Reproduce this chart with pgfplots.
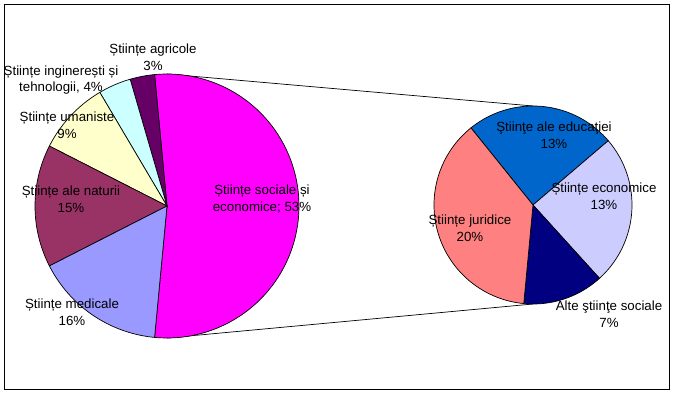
\documentclass[border=0pt]{standalone}
\usepackage{fontspec}
\setmainfont{Liberation Sans}
\usepackage{pgfplots}
\pgfplotsset{compat=1.18}
\definecolor{cMag}{HTML}{FF00FF}
\definecolor{cDpur}{HTML}{660066}
\definecolor{cCyan}{HTML}{CCFFFF}
\definecolor{cCream}{HTML}{FFFFCC}
\definecolor{cMaroon}{HTML}{993366}
\definecolor{cLav}{HTML}{9999FF}
\definecolor{cBlue}{HTML}{0066CC}
\definecolor{cLLav}{HTML}{CCCCFF}
\definecolor{cNavy}{HTML}{000080}
\definecolor{cSalmon}{HTML}{FF8080}
\tikzset{lbl/.style={font=\fontsize{13.3}{16.5}\selectfont, align=center, inner sep=0pt, text=black}}
% slice: cx, cy, r, start angle, end angle, colour
\newcommand\slice[6]{%
  \addplot[draw=black, line width=0.7pt, fill=#6, domain=#4:#5, samples=80, variable=\t]
    ({#1+#3*cos(\t)},{#2-#3*sin(\t)}) -- (axis cs:#1,#2) -- cycle;
}
\begin{document}
\begin{tikzpicture}
\begin{axis}[hide axis, scale only axis, width=673pt, height=395pt,
  xmin=0, xmax=673, ymin=0, ymax=395, y dir=reverse, clip=false]
\addplot[draw=none] coordinates {(0,0) (673,395)};
% frame
\addplot[black, line width=0.9pt] coordinates {(4,4) (669,4) (669,389) (4,389) (4,4)};
% connector lines
\addplot[black, line width=0.7pt] coordinates {(167,74) (533,106)};
\addplot[black, line width=0.7pt] coordinates {(167,338) (533,304)};
% main pie (percent of total): 53, 3, 4, 9, 15, 16  -> degrees = 3.6 * percent
\slice{167}{206}{132}{-95.4}{95.4}{cMag}     % 53
\slice{167}{206}{132}{95.4}{106.2}{cDpur}    % 3
\slice{167}{206}{132}{106.2}{120.6}{cCyan}   % 4
\slice{167}{206}{132}{120.6}{153.0}{cCream}  % 9
\slice{167}{206}{132}{153.0}{207.0}{cMaroon} % 15
\slice{167}{206}{132}{207.0}{264.6}{cLav}    % 16
% secondary pie (share of 53): 13, 13, 7, 20 -> degrees = 360 * p / 53
\slice{533}{205}{99}{128.8}{40.5}{cBlue}      % 13
\slice{533}{205}{99}{40.5}{-47.8}{cLLav}      % 13
\slice{533}{205}{99}{-47.8}{-95.35}{cNavy}    % 7
\slice{533}{205}{99}{-95.35}{-231.2}{cSalmon} % 20
% labels
\node[lbl] at (axis cs:153,57) {Științe agricole\\3\%};
\node[lbl] at (axis cs:61,80) {Științe inginerești și\\tehnologii, 4\%};
\node[lbl] at (axis cs:67,125) {Științe umaniste\\9\%};
\node[lbl] at (axis cs:71,199) {Științe ale naturii\\15\%};
\node[lbl] at (axis cs:72,312) {Științe medicale\\16\%};
\node[lbl] at (axis cs:262,199) {Științe sociale și\\economice; 53\%};
\node[lbl] at (axis cs:554,135) {Ştiinţe ale educaţiei\\13\%};
\node[lbl] at (axis cs:604,196) {Științe economice\\13\%};
\node[lbl] at (axis cs:470,228) {Științe juridice\\20\%};
\node[lbl] at (axis cs:609,314) {Alte ştiinţe sociale\\7\%};
\end{axis}
\end{tikzpicture}
\end{document}
